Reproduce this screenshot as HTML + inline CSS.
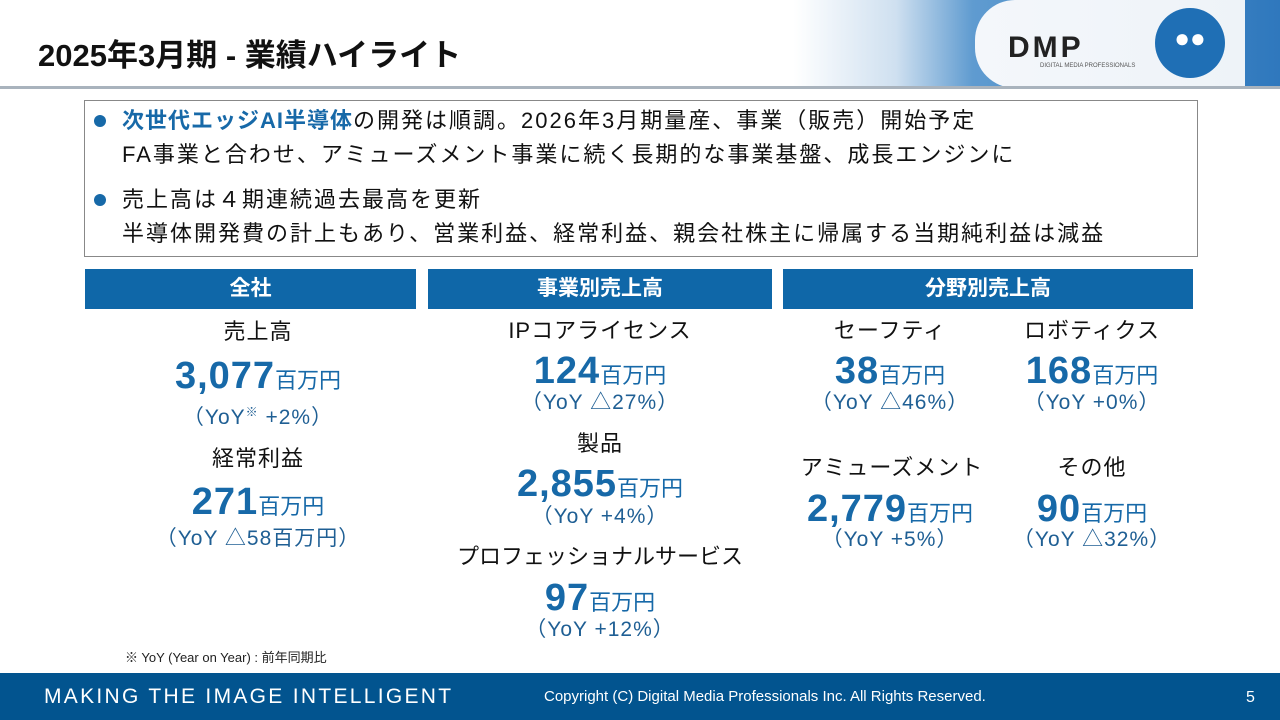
<!DOCTYPE html>
<html><head><meta charset="utf-8">
<style>
*{margin:0;padding:0;box-sizing:border-box}
body{width:1280px;height:720px;position:relative;overflow:hidden;background:#fff;font-family:"Liberation Sans","Noto Sans CJK JP",sans-serif}
.a{position:absolute}
.c{position:absolute;width:400px;text-align:center;white-space:nowrap}
.lbl{font-size:22px;color:#111;line-height:30px;letter-spacing:1px}
.big{font-size:38px;font-weight:bold;color:#1769a8;line-height:44px;letter-spacing:1px}
.big span{font-size:22px;font-weight:normal;letter-spacing:0}
.yoy{font-size:21px;color:#1f5f94;line-height:28px;letter-spacing:1px}
.bar{position:absolute;top:269px;height:40px;background:#0f67a8;color:#fff;font-weight:bold;font-size:21px;text-align:center;line-height:40px}
.bl{font-size:22px;line-height:30px;color:#111;position:absolute;left:122px;white-space:nowrap;letter-spacing:2px}
.dot{position:absolute;left:94px;width:12px;height:12px;border-radius:50%;background:#1769a8}
</style></head><body>
<div class="a" style="left:0;top:0;width:1280px;height:88px;background:linear-gradient(90deg,#fff 0,#fff 62%,#cfe0f0 70%,#5f9bd0 76%,#2f78bd 100%)"></div>
<div class="a" style="left:975px;top:0;width:270px;height:88px;background:linear-gradient(90deg,#f4f7fb,#eef3f8);border-radius:40px 0 0 40px"></div>
<div class="a" style="left:0;top:86px;width:1280px;height:3px;background:#a9b3bd"></div>
<div class="a" style="left:38px;top:30px;font-size:31px;font-weight:bold;color:#111;white-space:nowrap">2025年3月期 - 業績ハイライト</div>
<div class="a" style="left:1008px;top:34px;font-size:30px;font-weight:bold;color:#222;letter-spacing:3px;line-height:28px">DMP</div>
<div class="a" style="left:1040px;top:63px;font-size:6px;color:#555">DIGITAL MEDIA PROFESSIONALS</div>
<div class="a" style="left:1155px;top:8px;width:70px;height:70px;border-radius:50%;background:#1f6fb5;color:#fff;font-size:26px;line-height:60px;text-align:center;font-weight:bold">●●</div>

<div class="a" style="left:84px;top:100px;width:1114px;height:157px;border:1px solid #888"></div>
<div class="dot" style="top:115px"></div>
<div class="bl" style="top:106px"><b style="color:#1769a8;letter-spacing:1px">次世代エッジAI半導体</b>の開発は順調。2026年3月期量産、事業（販売）開始予定</div>
<div class="bl" style="top:140px">FA事業と合わせ、アミューズメント事業に続く長期的な事業基盤、成長エンジンに</div>
<div class="dot" style="top:194px"></div>
<div class="bl" style="top:185px">売上高は４期連続過去最高を更新</div>
<div class="bl" style="top:219px">半導体開発費の計上もあり、営業利益、経常利益、親会社株主に帰属する当期純利益は減益</div>

<div class="bar" style="left:85px;width:331px">全社</div>
<div class="bar" style="left:428px;width:344px">事業別売上高</div>
<div class="bar" style="left:783px;width:410px">分野別売上高</div>

<div class="c lbl" style="left:58px;top:317px">売上高</div>
<div class="c big" style="left:58px;top:354px">3,077<span>百万円</span></div>
<div class="c yoy" style="left:58px;top:398px">（YoY<sup style="font-size:12px">※</sup> +2%）</div>
<div class="c lbl" style="left:58px;top:444px">経常利益</div>
<div class="c big" style="left:58px;top:480px">271<span>百万円</span></div>
<div class="c yoy" style="left:58px;top:525px">（YoY △58百万円）</div>

<div class="c lbl" style="left:400px;top:316px">IPコアライセンス</div>
<div class="c big" style="left:400px;top:349px">124<span>百万円</span></div>
<div class="c yoy" style="left:400px;top:389px">（YoY △27%）</div>
<div class="c lbl" style="left:400px;top:429px">製品</div>
<div class="c big" style="left:400px;top:462px">2,855<span>百万円</span></div>
<div class="c yoy" style="left:400px;top:503px">（YoY +4%）</div>
<div class="c lbl" style="left:400px;top:542px;letter-spacing:0">プロフェッショナルサービス</div>
<div class="c big" style="left:400px;top:576px">97<span>百万円</span></div>
<div class="c yoy" style="left:400px;top:616px">（YoY +12%）</div>

<div class="c lbl" style="left:690px;top:316px">セーフティ</div>
<div class="c big" style="left:690px;top:349px">38<span>百万円</span></div>
<div class="c yoy" style="left:690px;top:389px">（YoY △46%）</div>
<div class="c lbl" style="left:692px;top:453px">アミューズメント</div>
<div class="c big" style="left:690px;top:487px">2,779<span>百万円</span></div>
<div class="c yoy" style="left:690px;top:526px">（YoY +5%）</div>

<div class="c lbl" style="left:892px;top:316px">ロボティクス</div>
<div class="c big" style="left:892px;top:349px">168<span>百万円</span></div>
<div class="c yoy" style="left:892px;top:389px">（YoY +0%）</div>
<div class="c lbl" style="left:892px;top:453px">その他</div>
<div class="c big" style="left:892px;top:487px">90<span>百万円</span></div>
<div class="c yoy" style="left:892px;top:526px">（YoY △32%）</div>

<div class="a" style="left:125px;top:647px;font-size:13px;color:#222;white-space:nowrap">※ YoY (Year on Year) : 前年同期比</div>

<div class="a" style="left:0;top:673px;width:1280px;height:47px;background:#02548f"></div>
<div class="a" style="left:44px;top:685px;font-size:21px;color:#fff;letter-spacing:2.3px;white-space:nowrap">MAKING THE IMAGE INTELLIGENT</div>
<div class="a" style="left:544px;top:688px;font-size:15px;color:#fff;white-space:nowrap">Copyright (C) Digital Media Professionals Inc. All Rights Reserved.</div>
<div class="a" style="left:1246px;top:689px;font-size:16px;color:#fff">5</div>
</body></html>
